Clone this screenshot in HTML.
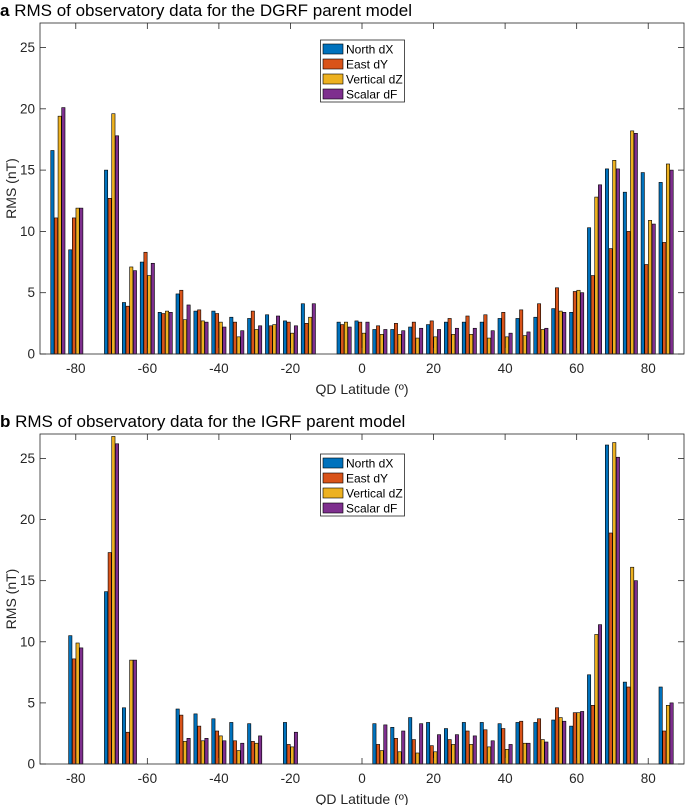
<!DOCTYPE html>
<html><head><meta charset="utf-8">
<style>
body{margin:0;background:#fff;font-family:"Liberation Sans",Arial,sans-serif;}
svg{display:block}
</style></head>
<body>
<svg id="fig" width="685" height="805" xmlns="http://www.w3.org/2000/svg"></svg>
<script>
const seriesNames = ["North dX","East dY","Vertical dZ","Scalar dF"];
const colors = ["#0072BD","#D95319","#EDB120","#7E2F8E"];
const xTicks = [-80,-60,-40,-20,0,20,40,60,80];
const yTicks = [0,5,10,15,20,25];

const latsA = [-85,-80,-70,-65,-60,-55,-50,-45,-40,-35,-30,-25,-20,-15,-5,0,5,10,15,20,25,30,35,40,45,50,55,60,65,70,75,80,85];
const northA = [16.6,8.5,15.0,4.2,7.5,3.4,4.9,3.5,3.5,3.0,2.9,3.2,2.7,4.1,2.6,2.7,2.0,2.0,2.2,2.4,2.6,2.6,2.6,2.9,2.9,3.0,3.7,3.4,10.3,15.1,13.2,14.8,14.0];
const eastA  = [11.1,11.1,12.7,3.9,8.3,3.3,5.2,3.6,3.3,2.6,3.5,2.3,2.6,2.5,2.4,2.6,2.3,2.5,2.6,2.7,2.9,3.1,3.2,3.4,3.6,4.1,5.4,5.1,6.4,8.6,10.0,7.3,9.1];
const vertA  = [19.4,11.9,19.6,7.1,6.4,3.5,2.8,2.7,2.6,1.4,2.0,2.4,1.7,3.0,2.6,1.7,1.6,1.6,1.3,1.4,1.6,1.6,1.3,1.4,1.5,2.0,3.5,5.2,12.8,15.8,18.2,10.9,15.5];
const scalA  = [20.1,11.9,17.8,6.8,7.4,3.4,4.0,2.6,2.2,1.9,2.3,3.1,2.3,4.1,2.2,2.6,2.0,1.9,2.1,2.0,2.1,2.1,1.9,1.7,1.8,2.1,3.4,5.0,13.8,15.1,18.0,10.6,15.0];

const latsB = [-80,-70,-65,-50,-45,-40,-35,-30,-20,5,10,15,20,25,30,35,40,45,50,55,60,65,70,75,85];
const northB = [10.5,14.1,4.6,4.5,4.1,3.7,3.4,3.3,3.4,3.3,3.0,3.8,3.4,2.9,3.4,3.4,3.3,3.4,3.4,3.6,3.1,7.3,26.1,6.7,6.3];
const eastB  = [8.6,17.3,2.6,4.0,3.1,2.7,1.9,1.85,1.6,1.6,2.1,2.0,1.5,2.0,2.7,2.8,2.9,3.5,3.7,4.6,4.2,4.8,18.9,6.3,2.7];
const vertB  = [9.9,26.8,8.5,1.85,1.9,2.3,1.1,1.7,1.4,1.1,1.0,0.9,1.0,1.6,1.6,1.4,1.2,1.7,2.0,3.8,4.2,10.6,26.3,16.1,4.8];
const scalB  = [9.5,26.2,8.5,2.1,2.1,1.9,1.7,2.3,2.6,3.2,2.7,3.3,2.4,2.4,2.3,1.9,1.6,1.7,1.8,3.5,4.3,11.4,25.1,15.0,5.0];

const NS="http://www.w3.org/2000/svg";
const svg=document.getElementById('fig');
function mk(tag,attrs,parent){const e=document.createElementNS(NS,tag);for(const k in attrs)e.setAttribute(k,attrs[k]);(parent||svg).appendChild(e);return e;}

function panel(letter,title,top,bottom,lats,series,legTop,pname){
  const L=40,R=684,xmin=-90,xmax=90,ymax=27;
  const g=mk('g',{});
  
  
  const xs=v=>L+(v-xmin)/(xmax-xmin)*(R-L);
  const ys=v=>bottom-v/ymax*(bottom-top);
  const t=mk('text',{x:0,y:top-7,'font-size':'17','fill':'#000'},g);
  
  
  const b=mk('tspan',{'font-weight':'bold'},t);b.textContent=letter+' ';
  const r=mk('tspan',{},t);r.textContent=title;
  const bw=3.3,step=(xs(1.02)-xs(0));
  lats.forEach((lat,i)=>{
    series.forEach((arr,s)=>{
      const cx=xs(lat)+(s-1.5)*step;
      const y=ys(arr[i]);
      const rc=mk('rect',{x:(cx-bw/2).toFixed(2),y:y.toFixed(2),width:bw,height:(bottom-y).toFixed(2),fill:colors[s],stroke:'#000','stroke-width':'0.6'},g);
      
      
    });
  });
  const bx=mk('rect',{x:L,y:top,width:R-L,height:bottom-top,fill:'none',stroke:'#262626','stroke-width':'0.8'},g);
  
  
  xTicks.forEach(v=>{
    const x=xs(v);
    mk('line',{x1:x,x2:x,y1:bottom,y2:bottom-6,stroke:'#262626','stroke-width':'0.8'},g);
    mk('line',{x1:x,x2:x,y1:top,y2:top+6,stroke:'#262626','stroke-width':'0.8'},g);
    const tl=mk('text',{x:x,y:bottom+19,'font-size':'13.5','text-anchor':'middle',fill:'#262626'},g);
    tl.textContent=v;
    
    
  });
  yTicks.forEach(v=>{
    const y=ys(v);
    mk('line',{x1:L,x2:L+6,y1:y,y2:y,stroke:'#262626','stroke-width':'0.8'},g);
    mk('line',{x1:R,x2:R-6,y1:y,y2:y,stroke:'#262626','stroke-width':'0.8'},g);
    const tl=mk('text',{x:35,y:y+4.5,'font-size':'13.5','text-anchor':'end',fill:'#262626'},g);
    tl.textContent=v;
    
    
  });
  const yl=mk('text',{x:0,y:0,'font-size':'14','text-anchor':'middle',fill:'#262626',transform:`translate(16,${(top+bottom)/2}) rotate(-90)`},g);
  yl.textContent='RMS (nT)';
  
  
  const xl=mk('text',{x:362,y:bottom+40,'font-size':'14','text-anchor':'middle',fill:'#262626'},g);
  xl.textContent='QD Latitude (º)';
  
  
  const lg=mk('g',{},g);
  
  
  mk('rect',{x:320.5,y:legTop,width:84,height:62,fill:'#fff',stroke:'#262626','stroke-width':'0.8'},lg);
  seriesNames.forEach((n,s)=>{
    const yy=legTop+4+s*15;
    const sw=mk('rect',{x:323,y:yy,width:20,height:10,fill:colors[s],stroke:'#000','stroke-width':'0.6'},lg);
    
    
    const tx=mk('text',{x:346,y:yy+9.5,'font-size':'12','fill':'#000'},lg);
    tx.textContent=n;
    
    
  });
}
panel('a','RMS of observatory data for the DGRF parent model',23,354,latsA,[northA,eastA,vertA,scalA],40,'panel-a-dgrf');
panel('b','RMS of observatory data for the IGRF parent model',434,764,latsB,[northB,eastB,vertB,scalB],454,'panel-b-igrf');
</script>
</body></html>
